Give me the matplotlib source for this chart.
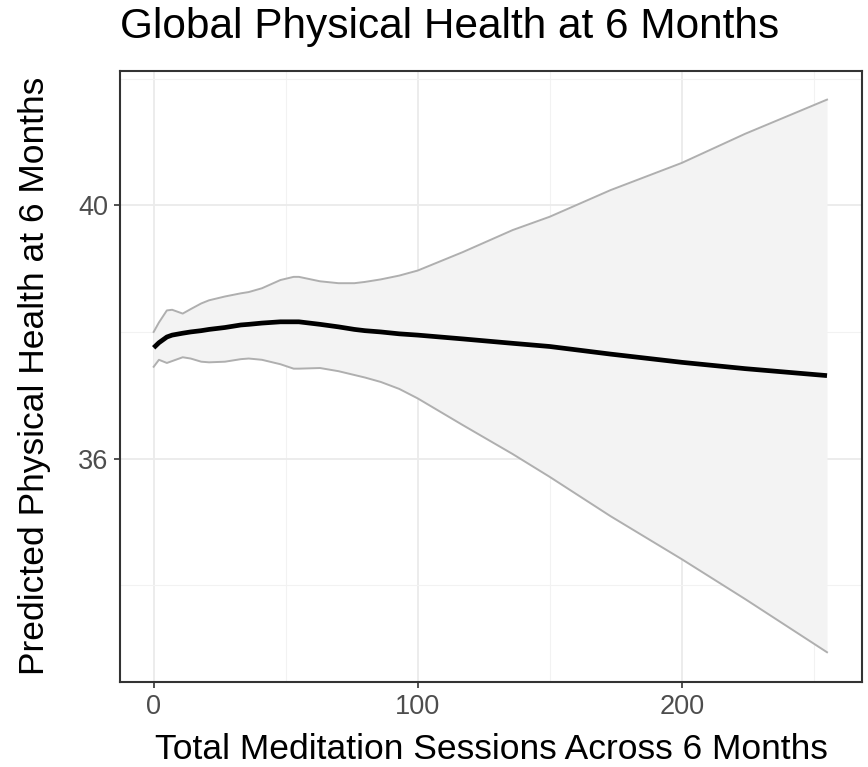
import matplotlib
matplotlib.use("Agg")
import matplotlib.pyplot as plt

plt.rcParams['font.family'] = ['Liberation Sans', 'DejaVu Sans']

# Data
sessions = [0, 2, 5, 7, 11, 14, 18, 21, 27, 33, 36, 41, 48, 53, 55, 63, 70, 76, 80, 86,
            93, 100, 117, 136, 150, 173, 200, 224, 255]
predicted = [37.75, 37.83, 37.92, 37.95, 37.98, 38.00, 38.02, 38.04, 38.07, 38.11, 38.12,
             38.14, 38.16, 38.16, 38.16, 38.12, 38.08, 38.04, 38.02, 38.00, 37.97, 37.95,
             37.89, 37.82, 37.77, 37.65, 37.52, 37.42, 37.31]
upper = [38.00, 38.15, 38.34, 38.35, 38.29, 38.36, 38.45, 38.50, 38.56, 38.61, 38.63,
         38.69, 38.82, 38.87, 38.87, 38.80, 38.77, 38.77, 38.79, 38.83, 38.89, 38.97,
         39.26, 39.61, 39.82, 40.24, 40.67, 41.13, 41.67]
lower = [37.45, 37.56, 37.51, 37.54, 37.60, 37.58, 37.53, 37.52, 37.53, 37.57, 37.58,
         37.56, 37.49, 37.42, 37.42, 37.43, 37.38, 37.32, 37.28, 37.21, 37.10, 36.95,
         36.53, 36.07, 35.71, 35.09, 34.41, 33.78, 32.94]

x_ticks = [0, 100, 200]
x_minor = [50, 150, 250]
y_ticks = [36, 40]
y_minor = [34, 38, 42]

fig = plt.figure(figsize=(8.68, 7.67), dpi=100)
ax = fig.add_axes([120/868, 1-682/767, (862-120)/868, (682-70.5)/767])

ax.fill_between(sessions, lower, upper, color='#F3F3F3', lw=0, zorder=2)
ax.plot(sessions, upper, color='#AFAFAF', lw=1.4, zorder=3)
ax.plot(sessions, lower, color='#AFAFAF', lw=1.4, zorder=3)
ax.plot(sessions, predicted, color='black', lw=3.4, zorder=4, solid_capstyle='butt')

ax.set_xlim(-12.75, 268.25)
ax.set_ylim(32.47, 42.13)

ax.set_xticks(x_ticks)
ax.set_xticks(x_minor, minor=True)
ax.set_yticks(y_ticks)
ax.set_yticks(y_minor, minor=True)
ax.grid(which='major', color='#EBEBEB', lw=1.3, zorder=0)
ax.grid(which='minor', color='#F2F2F2', lw=0.8, zorder=0)
ax.set_axisbelow(True)
ax.tick_params(which='major', length=4.5, width=1.2, color='#333333', labelsize=19.5,
               labelcolor='#4D4D4D', pad=4)
ax.tick_params(which='minor', length=0)
for s in ax.spines.values():
    s.set_color('#333333')
    s.set_linewidth(1.5)

ax.set_xlabel('Total Meditation Sessions Across 6 Months', fontsize=25.5)
ax.xaxis.label.set_va('baseline')
ax.xaxis.set_label_coords(0.5, (682-759)/611.5)
ax.set_ylabel('Predicted Physical Health at 6 Months', fontsize=25.5)
ax.yaxis.label.set_va('baseline')
ax.yaxis.set_label_coords((44-120)/742, 0.5)
fig.text(120/868, 1-38/767, 'Global Physical Health at 6 Months', fontsize=30.5,
         ha='left', va='baseline')

fig.savefig('out.png', dpi=100)
